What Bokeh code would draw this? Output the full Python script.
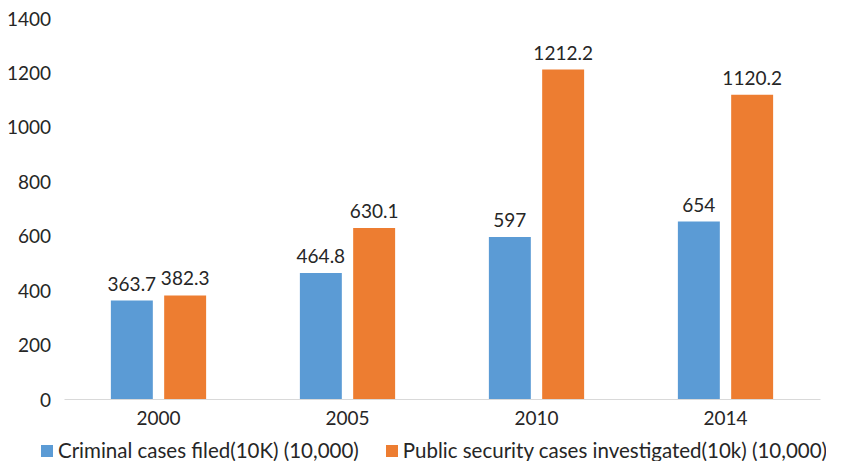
from bokeh.plotting import figure
from bokeh.models import ColumnDataSource, Legend, LegendItem, FixedTicker, Range1d
from bokeh.transform import dodge
from bokeh.core.properties import value
from bokeh.embed import file_html
from bokeh.resources import INLINE

years = ["2000", "2005", "2010", "2014"]
criminal = [363.7, 464.8, 597, 654]
public = [382.3, 630.1, 1212.2, 1120.2]
criminal_labels = ["363.7", "464.8", "597", "654"]
public_labels = ["382.3", "630.1", "1212.2", "1120.2"]
series_names = ["Criminal cases filed(10K) (10,000)",
                "Public security cases investigated(10k) (10,000)"]
y_ticks = [0, 200, 400, 600, 800, 1000, 1200, 1400]

FONT = "Lato"
TEXT = "#262626"
BLUE = "#5B9BD5"
ORANGE = "#ED7D31"

xi = list(range(len(years)))
src = ColumnDataSource(dict(xi=xi, criminal=criminal, public=public,
                            clab=criminal_labels, plab=public_labels))

# frame covers the whole canvas; axes are pinned with fixed_location
W, H = 826, 461
CAT_PX = 189
x_start = -0.5 - 63.5 / CAT_PX
x_range = Range1d(x_start, x_start + W / CAT_PX)
ppu = 381 / 1400
y_range = Range1d(-(H - 399) / ppu, 1400 + 18 / ppu)

p = figure(x_range=x_range, y_range=y_range, width=W, height=H,
           output_backend="svg", toolbar_location=None, min_border=0)

OFF, BW = 0.141, 0.222
r1 = p.vbar(x=dodge("xi", -OFF), top="criminal", width=BW,
            source=src, fill_color=BLUE, line_color=None)
r2 = p.vbar(x=dodge("xi", OFF), top="public", width=BW,
            source=src, fill_color=ORANGE, line_color=None)

p.text(x=dodge("xi", -OFF), y="criminal", text="clab", source=src,
       text_align="center", text_baseline="bottom", y_offset=-10,
       text_font=value(FONT), text_font_size="19px", text_color=TEXT)
p.text(x=dodge("xi", OFF), y="public", text="plab", source=src,
       text_align="center", text_baseline="bottom", y_offset=-10,
       text_font=value(FONT), text_font_size="19px", text_color=TEXT)

p.xgrid.grid_line_color = None
p.ygrid.grid_line_color = None
p.outline_line_color = None

p.yaxis.ticker = FixedTicker(ticks=y_ticks)
p.yaxis.fixed_location = -0.5
p.yaxis.axis_line_color = None
p.yaxis.major_tick_line_color = None
p.yaxis.minor_tick_line_color = None
p.yaxis.major_label_standoff = 7
p.yaxis.major_label_text_font = FONT
p.yaxis.major_label_text_font_size = "19px"
p.yaxis.major_label_text_color = TEXT

p.xaxis.ticker = FixedTicker(ticks=xi)
p.xaxis.major_label_overrides = {i: y for i, y in zip(xi, years)}
p.xaxis.fixed_location = 0
p.xaxis.bounds = (-0.5, 3.5)
p.xaxis.axis_line_color = "#D9D9D9"
p.xaxis.axis_line_width = 1
p.xaxis.major_tick_line_color = None
p.xaxis.minor_tick_line_color = None
p.xaxis.major_label_standoff = 5
p.xaxis.major_label_text_font = FONT
p.xaxis.major_label_text_font_size = "19px"
p.xaxis.major_label_text_color = TEXT

legend = Legend(items=[LegendItem(label=series_names[0], renderers=[r1]),
                       LegendItem(label=series_names[1], renderers=[r2])],
                orientation="horizontal", location=(39, -1),
                glyph_width=15, glyph_height=15, label_standoff=4, spacing=25,
                padding=0, margin=0, border_line_color=None, background_fill_alpha=0,
                label_text_font=FONT, label_text_font_size="20.5px", label_text_color=TEXT)
p.add_layout(legend, "center")

open("out.html", "w").write(file_html(p, INLINE))
